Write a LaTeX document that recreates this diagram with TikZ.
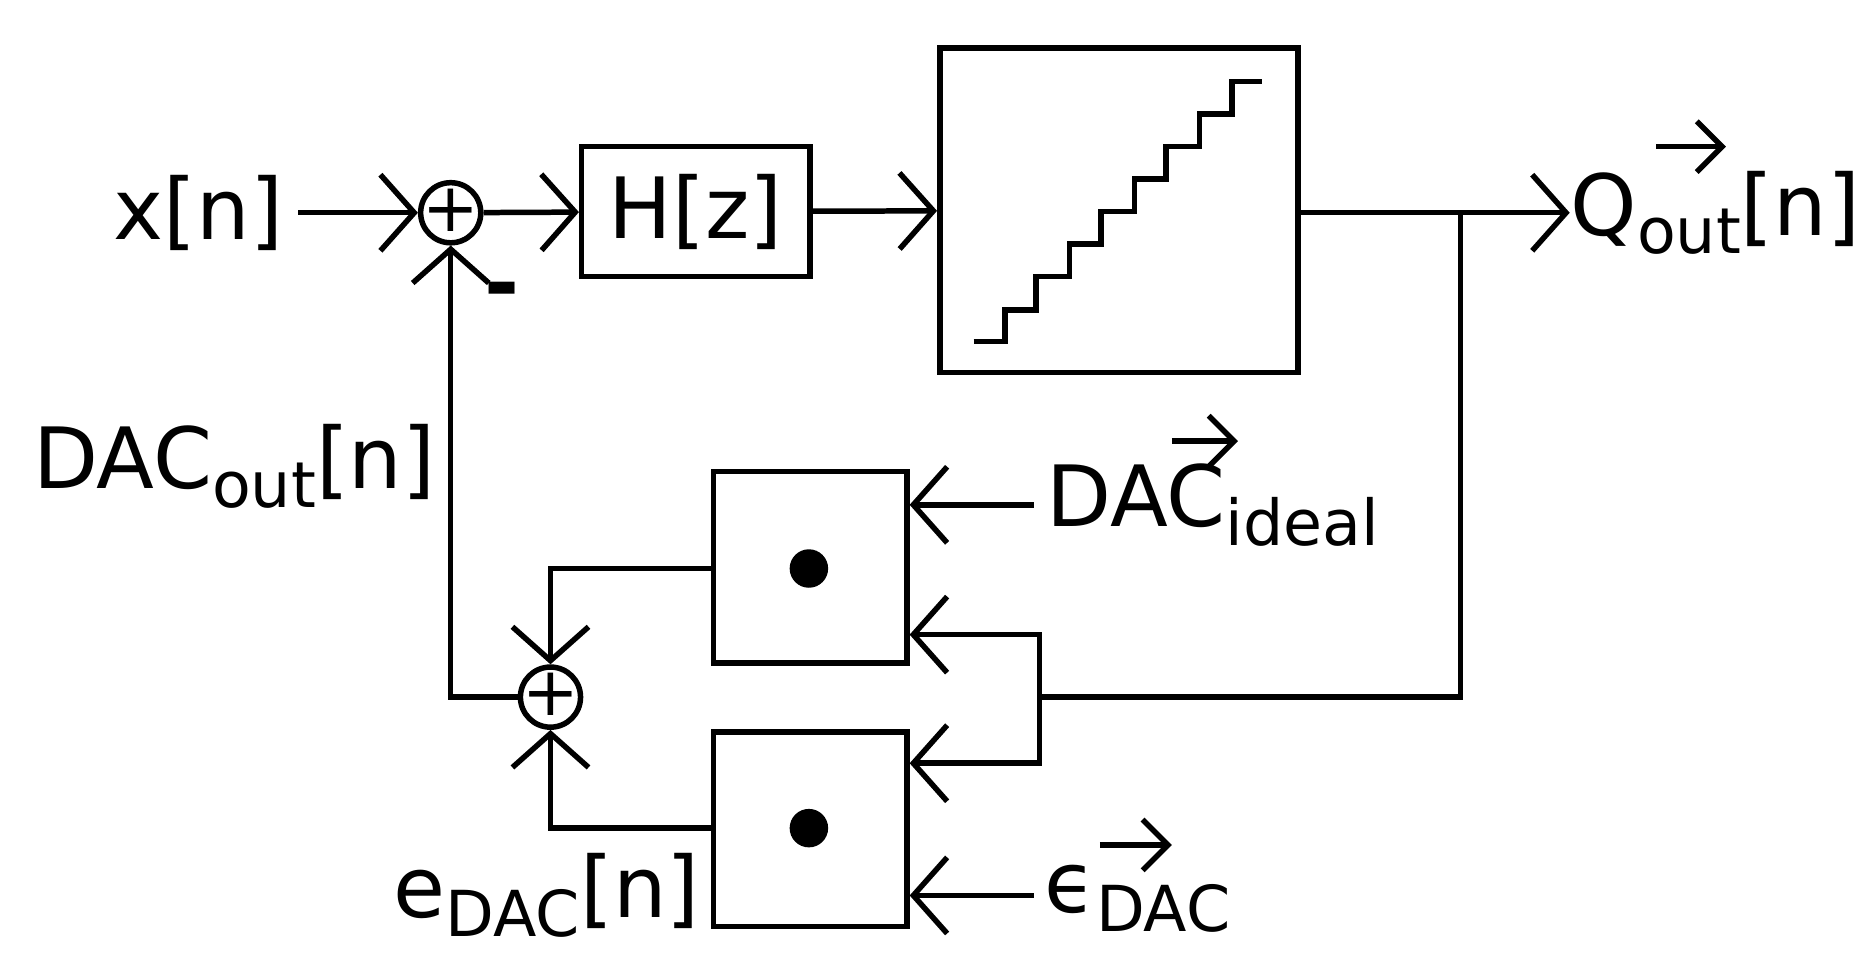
\documentclass[tikz,border=0pt]{standalone}
\usepackage{fontspec}
\setmainfont{DejaVu Sans}
\usetikzlibrary{arrows.meta}
\newcommand{\sbx}[1]{\raisebox{-0.22em}{\fontsize{15}{16}\selectfont #1}}
\begin{document}
\begin{tikzpicture}[x=0.01cm,y=-0.01cm,
  every node/.style={font=\fontsize{20}{24}\selectfont},
  ln/.style={line width=1.3pt},
  ar/.style={ln,-{Straight Barb[length=8pt,width=18pt,line width=1.3pt]}},
  blk/.style={draw,line width=1.3pt,inner sep=0},
  sum/.style={draw,circle,line width=1.3pt,inner sep=0,minimum size=0.5cm}]
\useasboundingbox (0,0) rectangle (1560,806);
\node (x) at (165,177) {x[n]};
\node[sum] (s1) at (375,177) {};
\node at (375,175) {\fontsize{16}{16}\selectfont +};
\node[blk,minimum width=1.9cm,minimum height=1.08cm] (h) at (579,176) {H[z]};
\node[blk,minimum width=2.98cm,minimum height=2.7cm] (q) at (931,175) {};
\draw[ln] (810,284) -- (836,284) -- (836,258) -- (862,258) -- (862,230) -- (890,230) -- (890,203) -- (916,203) -- (916,176) -- (944,176) -- (944,149) -- (970,149) -- (970,122) -- (998,122) -- (998,95) -- (1025,95) -- (1025,68) -- (1050,68);
\node[anchor=west,inner sep=0] (qo) at (1306,177) {Q\sbx{out}[n]};
\draw[ln,-{Straight Barb[length=6pt,width=12pt]}] (1378,122) -- (1436,122);
\coordinate (br) at (1215,177);
\draw[ar] (x) -- (s1);
\draw[ar] (s1) -- (h);
\draw[ar] (h) -- (q);
\draw[ar] (q.east |- br) -- (qo.west);
\node[blk,minimum width=1.61cm,minimum height=1.59cm] (b1) at (674,472) {};
\node[blk,minimum width=1.61cm,minimum height=1.62cm] (b2) at (674,690) {};
\fill (673,473) circle (0.16cm);
\fill (673,689) circle (0.16cm);
\node[sum] (s2) at (458,580) {};
\node at (458,578) {\fontsize{16}{16}\selectfont +};
\coordinate (f) at (865,580);
\coordinate (di) at (860,420);
\coordinate (ed) at (860,745);
\node[anchor=west,inner sep=0] (dil) at (870,420) {DAC\sbx{ideal}};
\draw[ln,-{Straight Barb[length=6pt,width=12pt]}] (975,367) -- (1030,367);
\node[anchor=west,inner sep=0] (edl) at (868,748) {ϵ\sbx{DAC}};
\draw[ln,-{Straight Barb[length=6pt,width=12pt]}] (915,703) -- (975,703);
\draw[ln] (br) |- (f);
\draw[ar] (f) |- (b1.east |- 0,528);
\draw[ar] (f) |- (b2.east |- 0,635);
\draw[ar] (di) -- (b1.east |- di);
\draw[ar] (ed) -- (b2.east |- ed);
\draw[ar] (b1.west |- 0,473) -| (s2.north);
\draw[ar] (b2.west |- 0,689) -| (s2.south);
\draw[ar] (s2.west) -| (s1.south);
\node at (418,247) {\textbf{-}};
\node (dac) at (195,388) {DAC\sbx{out}[n]};
\node (e) at (455,745) {e\sbx{DAC}[n]};
\end{tikzpicture}
\end{document}
